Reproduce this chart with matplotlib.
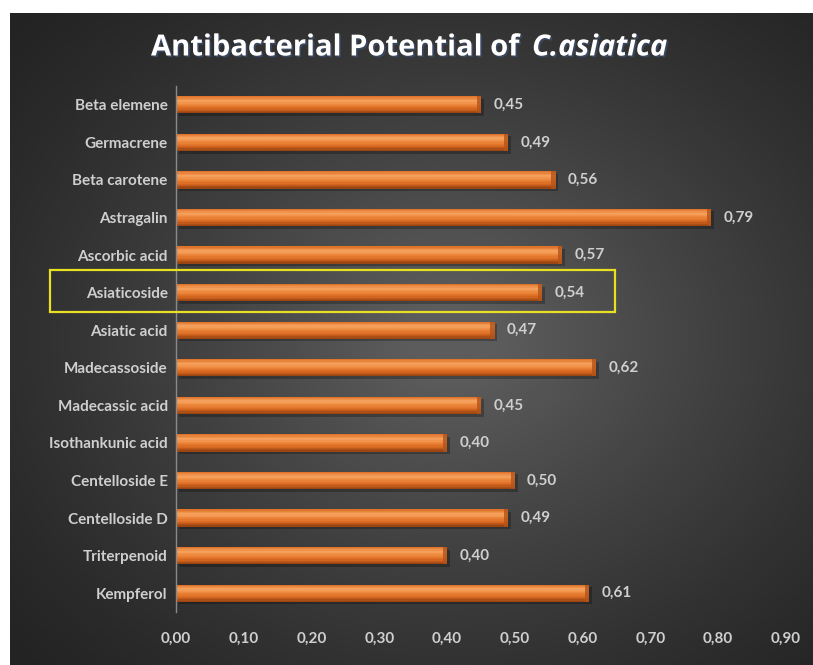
import numpy as np
import matplotlib
matplotlib.use("Agg")
from matplotlib import pyplot as plt
from matplotlib.colors import LinearSegmentedColormap
from matplotlib.patches import Rectangle
import matplotlib.patheffects as pe

# data (top to bottom as in the picture)
compostos = ["Beta elemene", "Germacrene", "Beta carotene", "Astragalin",
             "Ascorbic acid", "Asiaticoside", "Asiatic acid", "Madecassoside",
             "Madecassic acid", "Isothankunic acid", "Centelloside E",
             "Centelloside D", "Triterpenoid", "Kempferol"]
valores = [0.45, 0.49, 0.56, 0.79, 0.57, 0.54, 0.47, 0.62, 0.45, 0.40,
           0.50, 0.49, 0.40, 0.61]
destaque = "Asiaticoside"
ticks_x = [0.0, 0.1, 0.2, 0.3, 0.4, 0.5, 0.6, 0.7, 0.8, 0.9]

W, H = 813, 665
fig = plt.figure(figsize=(W / 100, H / 100), dpi=100, facecolor="white")

# fundo escuro com gradiente radial
bg = fig.add_axes([10 / W, 0, 803 / W, 652 / H])
yy, xx = np.mgrid[0:1:300j, 0:1:360j]
r = np.sqrt(((xx - 0.55) / 0.75) ** 2 + ((yy - 0.5) / 0.75) ** 2)
shade = np.clip(1 - r, 0, 1) ** 1.3
cmap_bg = LinearSegmentedColormap.from_list("bg", ["#232323", "#5c5c5c"])
bg.imshow(shade, cmap=cmap_bg, aspect="auto", extent=(0, 1, 0, 1), vmin=0, vmax=0.9)
bg.set_axis_off()

ax = fig.add_axes([176 / W, 1 - 612 / H, 610 / W, 526 / H])
ax.patch.set_alpha(0)

cmap_bar = LinearSegmentedColormap.from_list(
    "bar", [(0, "#e0742a"), (0.25, "#f7a562"), (0.45, "#ee8a3e"),
            (0.75, "#d8681f"), (1, "#9a4512")])
h = 0.46
n = 14
pos = np.arange(len(compostos))

# sombra
ax.barh(pos + 0.07, valores, height=h, left=0.004, color="black", alpha=0.25, zorder=1)
for k in range(n):
    off = -h / 2 + (k + 0.5) * h / n
    ax.barh(pos + off, valores, height=h / n * 1.05, color=cmap_bar(k / (n - 1)),
            linewidth=0, zorder=2)
# tampa escura na ponta
ax.barh(pos, [0.006] * len(valores), left=np.array(valores) - 0.006, height=h,
        color="#b3541a", alpha=0.8, linewidth=0, zorder=3)

fonte = dict(color="#cfcfcf", fontsize=11, family="Lato", fontweight="bold")
for y, v in zip(pos, valores):
    ax.text(v + 0.018, y, f"{v:.2f}".replace(".", ","), va="center", ha="left", **fonte)

ax.set_xlim(0, 0.9)
ax.set_ylim(len(compostos) - 0.5, -0.5)
ax.set_yticks(pos)
ax.set_yticklabels(compostos, **fonte)
ax.set_xticks(ticks_x)
ax.set_xticklabels([f"{t:.2f}".replace(".", ",") for t in ticks_x], **fonte)
ax.tick_params(axis="y", length=0, pad=6)
ax.tick_params(axis="x", length=0, pad=14)
for s in ["top", "right", "bottom"]:
    ax.spines[s].set_visible(False)
ax.spines["left"].set_color("#8a8a8a")
ax.spines["left"].set_linewidth(1)

# caixa amarela em volta do destaque
i = compostos.index(destaque)
ax.add_patch(Rectangle((-0.186, i - 0.6), 0.834, 1.12, fill=False,
                       edgecolor="#e8e020", linewidth=1.6, clip_on=False, zorder=5))

# titulo
efeito = [pe.withSimplePatchShadow(offset=(1.2, -1.2), shadow_rgbFace="#3a4a66", alpha=0.9)]
fig.text(527 / W, 1 - 48 / H, "Antibacterial Potential of ", ha="right", va="center",
         color="white", fontsize=21, fontweight="bold", family="Open Sans",
         path_effects=efeito)
fig.text(532 / W, 1 - 48 / H, "C.asiatica", ha="left", va="center",
         color="white", fontsize=21, fontweight="bold", fontstyle="italic",
         family="Open Sans", path_effects=efeito)

fig.savefig("out.png", dpi=100, facecolor="white")
